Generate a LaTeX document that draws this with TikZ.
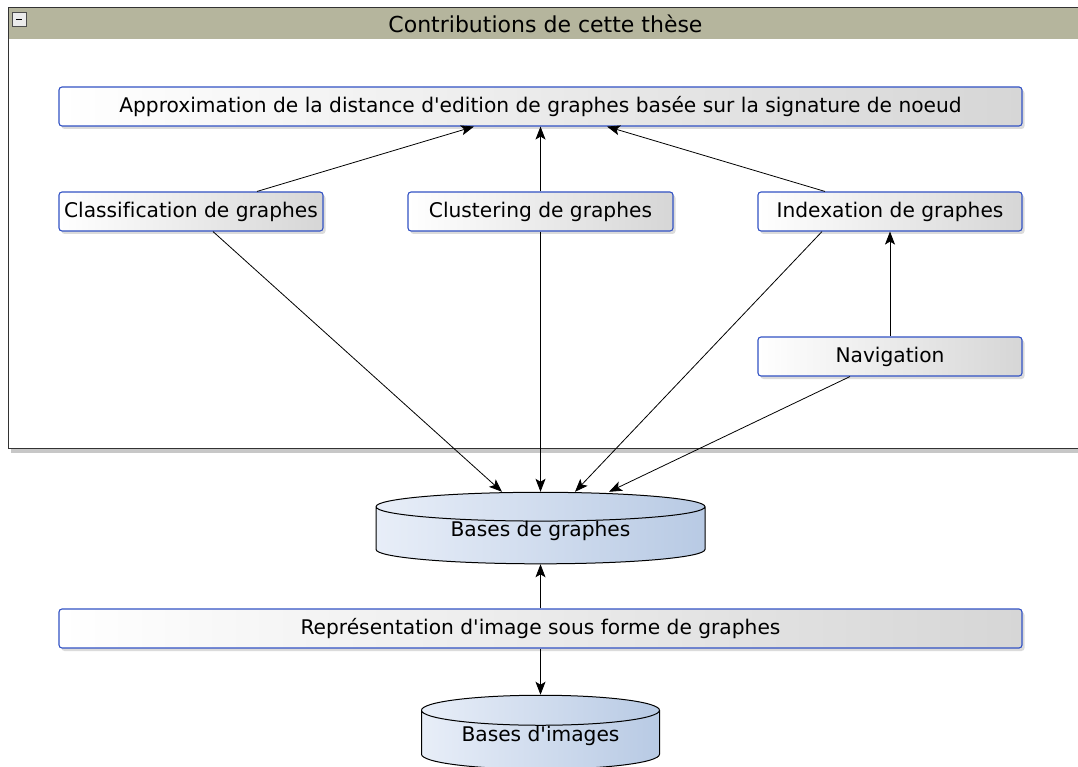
\documentclass[tikz,border=0pt]{standalone}
\usepackage{fontspec}
\setmainfont{DejaVu Sans}[Ligatures={NoCommon}]
\usetikzlibrary{arrows.meta,shapes.geometric,shadows}

\definecolor{headband}{RGB}{181,181,157}
\definecolor{boxblue}{RGB}{50,82,196}
\definecolor{boxgray}{RGB}{214,214,214}
\definecolor{cylleft}{RGB}{232,238,248}
\definecolor{cylright}{RGB}{184,202,228}

\tikzset{
  topicbox/.style={draw=boxblue, line width=1.1pt, rounded corners=3pt,
    left color=white, right color=boxgray, minimum height=39pt, inner sep=0pt,
    font=\fontsize{20.2}{23}\selectfont,
    drop shadow={opacity=0.28, shadow xshift=2.5pt, shadow yshift=-3pt}},
  database/.style={cylinder, shape border rotate=90, draw=black, line width=1pt,
    left color=cylleft, right color=cylright, inner sep=0pt, text depth=12.5pt,
    font=\fontsize{20.2}{23}\selectfont},
  link/.style={-{Stealth[length=13pt,width=10pt,inset=3pt]}, line width=0.8pt}
}

\begin{document}
\begin{tikzpicture}[x=1pt,y=-1pt]
  %%%%% FRAME %%%%%
  \useasboundingbox (0,0) rectangle (1078,767);
  \fill[white] (0,0) rectangle (1078,767);

  \fill[black!22] (11,448) rectangle (1090,452.5);
  \draw[line width=1pt, color=black!80, fill=white] (8,8) rectangle (1090,448);
  \fill[headband] (8.5,8.5) rectangle (1090,39);
  \draw[line width=1pt, color=black!80] (8,8) -- (1090,8);

  \node[draw=black!70, fill=black!8, line width=0.8pt, minimum size=14pt, inner sep=0pt] (fold) at (19,19.5) {};
  \draw[line width=1.8pt] ([xshift=-3pt]fold.center) -- ([xshift=3pt]fold.center);
  \node[font=\fontsize{22}{25}\selectfont] (title) at (545.5,24) {Contributions de cette thèse};

  %%%%% NODES %%%%%
  \node[topicbox, minimum width=963pt] (approx) at (540.5,106.5) {Approximation de la distance d\textquotesingle edition de graphes basée sur la signature de noeud};

  \node[topicbox, minimum width=264pt] (cls) at (191,211.5) {Classification de graphes};
  \node[topicbox, minimum width=265pt] (clu) at (540.5,211.5) {Clustering de graphes};
  \node[topicbox, minimum width=264pt] (idx) at (890,211.5) {Indexation de graphes};
  \node[topicbox, minimum width=264pt] (nav) at (890,356.5) {Navigation};

  \node[database, aspect=0.16, minimum width=329pt, minimum height=68pt] (bg) at (540.5,535.5) {Bases de graphes};
  \node[topicbox, minimum width=963pt] (rep) at (540.5,628.5) {Représentation d\textquotesingle image sous forme de graphes};
  \node[database, aspect=0.19, minimum width=238pt, minimum height=74pt] (bi) at (540.5,740) {Bases d\textquotesingle images};

  %%%%% LINKS %%%%%
  \draw[link] ([xshift=66pt]cls.north) -- ([xshift=-66.5pt]approx.south);
  \draw[link] (clu.north) -- (approx.south);
  \draw[link] ([xshift=-65pt]idx.north) -- ([xshift=66.5pt]approx.south);
  \draw[link] (nav.north) -- (idx.south);

  \draw[link] ([xshift=22pt]cls.south) -- ([xshift=-38.5pt]bg.north);
  \draw[link] (clu.south) -- (bg.north);
  \draw[link] ([xshift=-68pt]idx.south) -- ([xshift=34.5pt]bg.north);
  \draw[link] ([xshift=-40pt]nav.south) -- ([xshift=68.5pt]bg.north);

  \draw[link] (rep.north) -- (bg.south);
  \draw[link] (rep.south) -- (bi.north);
\end{tikzpicture}
\end{document}
